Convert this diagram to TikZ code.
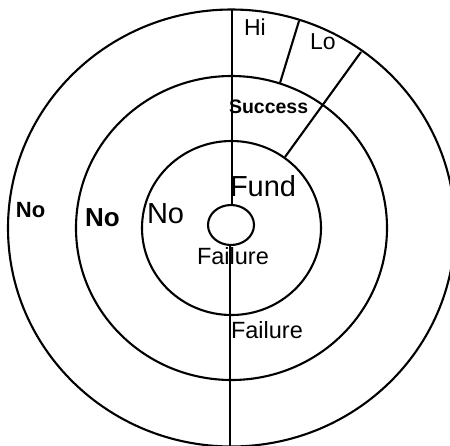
\documentclass[tikz,border=0pt]{standalone}
\usepackage{fontspec}
\setmainfont{Liberation Sans}
\begin{document}
\begin{tikzpicture}[x=1pt,y=-1pt,
  ring/.style={line width=2.1pt},
  lbl/.style={anchor=base west,inner sep=0pt,outer sep=0pt},
  fs/.style={font=\fontsize{#1}{#1}\selectfont},
  fb/.style={font=\fontsize{#1}{#1}\selectfont\bfseries}]
\useasboundingbox (0,0) rectangle (450,445);
\coordinate (c) at (231.5,228);
\coordinate (s) at (231,225);
% circles
\draw[ring] (c) ellipse [x radius=223.5pt, y radius=218.5pt];
\draw[ring] (c) ellipse [x radius=155.5pt, y radius=152pt];
\draw[ring] (c) ellipse [x radius=89.5pt, y radius=87pt];
\draw[ring] (s) ellipse [x radius=23pt, y radius=20pt];
% vertical line
\coordinate (vt) at (232,9.5);
\coordinate (vs) at (232,205);
\coordinate (vb) at (230,245);
\coordinate (ve) at (230,446);
\draw[ring] (vt) -- (vs);
\draw[ring] (vb) -- (ve);
% radial lines
\coordinate (r1a) at (299,21);
\coordinate (r1b) at (280,83);
\coordinate (r2a) at (361,52);
\coordinate (r2b) at (285,157);
\draw[ring] (r1a) -- (r1b);
\draw[ring] (r2a) -- (r2b);
% labels
\node[lbl,fs=23] (hi) at (244,35) {Hi};
\node[lbl,fs=23] (lo) at (310,49) {Lo};
\node[lbl,fb=19.5] (succ) at (229,113) {Success};
\node[lbl,fs=29] (fund) at (230,196) {Fund};
\node[lbl,fb=22] (no1) at (16,217) {No};
\node[lbl,fb=26] (no2) at (85,226) {No};
\node[lbl,fs=29] (no3) at (147,223) {No};
\node[lbl,fs=23.5] (fail1) at (197,264) {Failure};
\node[lbl,fs=23.5] (fail2) at (231,338) {Failure};
\end{tikzpicture}
\end{document}
